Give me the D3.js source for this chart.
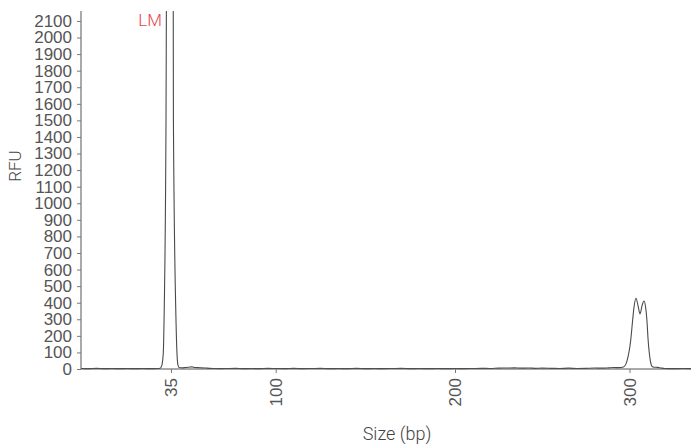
<!DOCTYPE html>
<html>
<head>
<meta charset="utf-8">
<script src="https://cdn.jsdelivr.net/npm/d3@7"></script>
<style>
  html, body { margin: 0; padding: 0; background: #fff; }
  svg { display: block; font-family: Roboto, "Noto Sans", sans-serif; font-weight: 300; }
</style>
</head>
<body>
<svg id="chart" width="691" height="448"></svg>
<script>
// ---- data ----
const sizeBp = [0, 3, 6, 9, 12, 15, 18, 21, 24, 27, 29.5, 30.8, 31.4, 32.0, 32.3, 33.06, 33.2, 34.7, 36.4, 36.5, 38.1, 38.7, 39.3, 40,
  42, 44, 46, 48, 50, 52, 54, 56, 59, 62, 66, 70, 75, 80, 85, 90, 95, 100, 105, 110, 115, 120, 125, 130, 135, 140, 145, 150,
  155, 160, 165, 170, 175, 180, 185, 190, 195, 200, 205, 210, 215, 220, 225, 230, 234, 238, 242, 246, 250, 255, 260, 265,
  270, 275, 280, 284, 288, 291, 294, 296.5, 298.7, 300.7, 301.8, 302.6, 303.7, 304.9, 306.0, 307.2, 308.3, 309.2, 309.9,
  310.6, 311.8, 312.9, 314, 316, 318, 320, 325, 330, 335];
const rfu = [3, 2, 4, 2, 3, 2, 3, 2, 3, 2, 3, 5, 20, 97, 296, 1503, 2155, 9000, 2155, 1503, 296, 97, 25, 9,
  7, 9, 11, 13, 9, 8, 7, 6, 4, 3, 2, 3, 4, 2, 3, 2, 4, 3, 2, 4, 2, 3, 4, 2, 3, 2, 4, 2,
  3, 2, 3, 4, 2, 3, 2, 3, 2, 3, 2, 3, 4, 3, 5, 6, 7, 5, 6, 4, 5, 4, 3, 5,
  3, 4, 6, 5, 7, 9, 8, 12, 54, 175, 296, 376, 427, 380, 332, 385, 410, 370, 296,
  175, 54, 15, 11, 10, 6, 3, 2, 3, 2];
const xTicks = [35, 100, 200, 300];
const yTicks = d3.range(0, 2101, 100);
const peakLabel = "LM";
const peakLabelAt = 35;

// ---- layout ----
const svg = d3.select("#chart");
const mLeft = 81, mRight = 691, mTop = 11, mBottom = 369;

const x = d3.scaleLinear()
  .domain([0, 35, 100, 200, 300, 335])
  .range([mLeft, 171, 275.7, 455, 629.5, mRight]);
const y = d3.scaleLinear().domain([0, 2160]).range([mBottom, mTop]);

svg.append("defs").append("clipPath").attr("id", "clip")
  .append("rect").attr("x", mLeft).attr("y", mTop).attr("width", mRight - mLeft).attr("height", mBottom - mTop + 2);

// trace
const line = d3.line()
  .x((d, i) => x(sizeBp[i]))
  .y(d => y(d))
  .curve(d3.curveMonotoneX);
svg.append("path")
  .datum(rfu)
  .attr("clip-path", "url(#clip)")
  .attr("fill", "none")
  .attr("stroke", "#4a4a4a")
  .attr("stroke-width", 1.1)
  .attr("d", line);

// y axis
const yAxis = svg.append("g")
  .attr("transform", `translate(${mLeft},0)`)
  .call(d3.axisLeft(y).tickValues(yTicks).tickFormat(d3.format("d")).tickSize(4).tickPadding(5).tickSizeOuter(0));
yAxis.select(".domain").attr("stroke", "#555").attr("d", `M0,${mTop}V${mBottom}`);
yAxis.selectAll(".tick line").attr("stroke", "#777");
yAxis.selectAll(".tick text").attr("fill", "#555").style("font-size", "17px");

// x axis
const xAxis = svg.append("g")
  .attr("transform", `translate(0,${mBottom})`)
  .call(d3.axisBottom(x).tickValues(xTicks).tickFormat(d3.format("d")).tickSize(4).tickSizeOuter(0));
xAxis.select(".domain").attr("stroke", "#555").attr("d", `M${mLeft},0H${mRight}`);
xAxis.selectAll(".tick line").attr("stroke", "#777");
xAxis.selectAll(".tick text")
  .attr("fill", "#555")
  .style("font-size", "17px")
  .attr("transform", "rotate(-90)")
  .attr("x", -9)
  .attr("y", 0)
  .attr("dy", "0.35em")
  .attr("text-anchor", "end");

// titles
svg.append("text")
  .attr("x", 397)
  .attr("y", 440)
  .attr("text-anchor", "middle")
  .attr("fill", "#444")
  .style("font-size", "18px")
  .text("Size (bp)");
svg.append("text")
  .attr("transform", "translate(21,166) rotate(-90)")
  .attr("text-anchor", "middle")
  .attr("fill", "#444")
  .style("font-size", "17px")
  .text("RFU");

// LM label
svg.append("text")
  .attr("x", x(peakLabelAt) - 9)
  .attr("y", 26)
  .attr("text-anchor", "end")
  .attr("fill", "#e8444e")
  .style("font-size", "17px")
  .text(peakLabel);
</script>
</body>
</html>
